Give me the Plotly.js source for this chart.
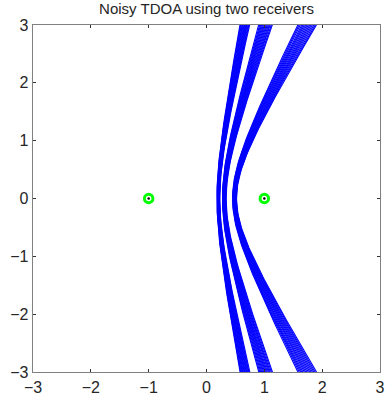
<!DOCTYPE html>
<html>
<head>
<meta charset="utf-8">
<script src="https://cdn.plot.ly/plotly-3.0.1.min.js"></script>
<style>
  html, body { margin: 0; padding: 0; background: #ffffff; }
  #chart { width: 386px; height: 398px; }
</style>
</head>
<body>
<div id="chart"></div>
<script>
// Receiver positions
const receiverX = [-1, 1];
const receiverY = [0, 0];

const tdoaGroup1 = [0.360, 0.366, 0.373, 0.381, 0.387, 0.394, 0.402, 0.409, 0.415, 0.423, 0.430, 0.437, 0.445, 0.452, 0.460];
const tdoaGroup2 = [0.550, 0.559, 0.568, 0.578, 0.587, 0.596, 0.605, 0.614, 0.623, 0.632, 0.642, 0.651, 0.660, 0.670, 0.680];
const tdoaGroup3 = [0.900, 0.910, 0.920, 0.930, 0.940, 0.950, 0.960, 0.970, 0.980, 0.990, 1.000, 1.010, 1.020, 1.030, 1.040];

const axisTicks = [-3, -2, -1, 0, 1, 2, 3];
const titleText = 'Noisy TDOA using two receivers';

// Sample the hyperbola branch |P-R1| - |P-R2| = d for each measurement
const focalHalf = (receiverX[1] - receiverX[0]) / 2;
const centerX = (receiverX[0] + receiverX[1]) / 2;
function hyperbolaTrace(group) {
  const xs = [], ys = [];
  for (const d of group) {
    const a = d / 2;
    const b2 = focalHalf * focalHalf - a * a;
    for (let i = -70; i <= 70; i++) {
      const y = i * 0.05;
      xs.push(centerX + a * Math.sqrt(1 + y * y / b2));
      ys.push(y);
    }
    xs.push(null); ys.push(null);
  }
  return {
    x: xs, y: ys, type: 'scatter', mode: 'lines',
    line: { color: '#0000ff', width: 1.1 },
    hoverinfo: 'skip', showlegend: false, connectgaps: false
  };
}

const traces = [
  hyperbolaTrace(tdoaGroup1),
  hyperbolaTrace(tdoaGroup2),
  hyperbolaTrace(tdoaGroup3),
  {
    x: receiverX, y: receiverY, type: 'scatter', mode: 'markers',
    marker: { symbol: 'circle-open', size: 8.5, color: '#00ff00', line: { width: 3, color: '#00ff00' } },
    showlegend: false, cliponaxis: false
  },
  {
    x: receiverX, y: receiverY, type: 'scatter', mode: 'markers',
    marker: { symbol: 'circle', size: 2.5, color: '#000000' },
    showlegend: false, cliponaxis: false
  }
];

const axisCommon = {
  range: [-3, 3],
  tickvals: axisTicks,
  ticks: 'inside',
  ticklen: 3,
  tickwidth: 1,
  tickcolor: '#333333',
  showline: true,
  linecolor: '#808080',
  linewidth: 1.3,
  mirror: 'ticks',
  showgrid: false,
  zeroline: false,
  tickfont: { family: 'Liberation Sans, Arial, sans-serif', size: 16, color: '#262626' },
  fixedrange: true
};

const layout = {
  width: 386,
  height: 398,
  margin: { l: 33, r: 6, t: 25, b: 26, pad: 0 },
  paper_bgcolor: '#ffffff',
  plot_bgcolor: '#ffffff',
  title: {
    text: titleText,
    font: { family: 'Liberation Sans, Arial, sans-serif', size: 15, color: '#262626' },
    x: 0.535, xanchor: 'center',
    yref: 'container', y: 1 - 9 / 398, yanchor: 'middle'
  },
  xaxis: Object.assign({}, axisCommon, { ticklabelstandoff: 0 }),
  yaxis: Object.assign({}, axisCommon, { ticklabelstandoff: 0 }),
  showlegend: false
};

Plotly.newPlot('chart', traces, layout, { displayModeBar: false, staticPlot: true });
</script>
</body>
</html>
